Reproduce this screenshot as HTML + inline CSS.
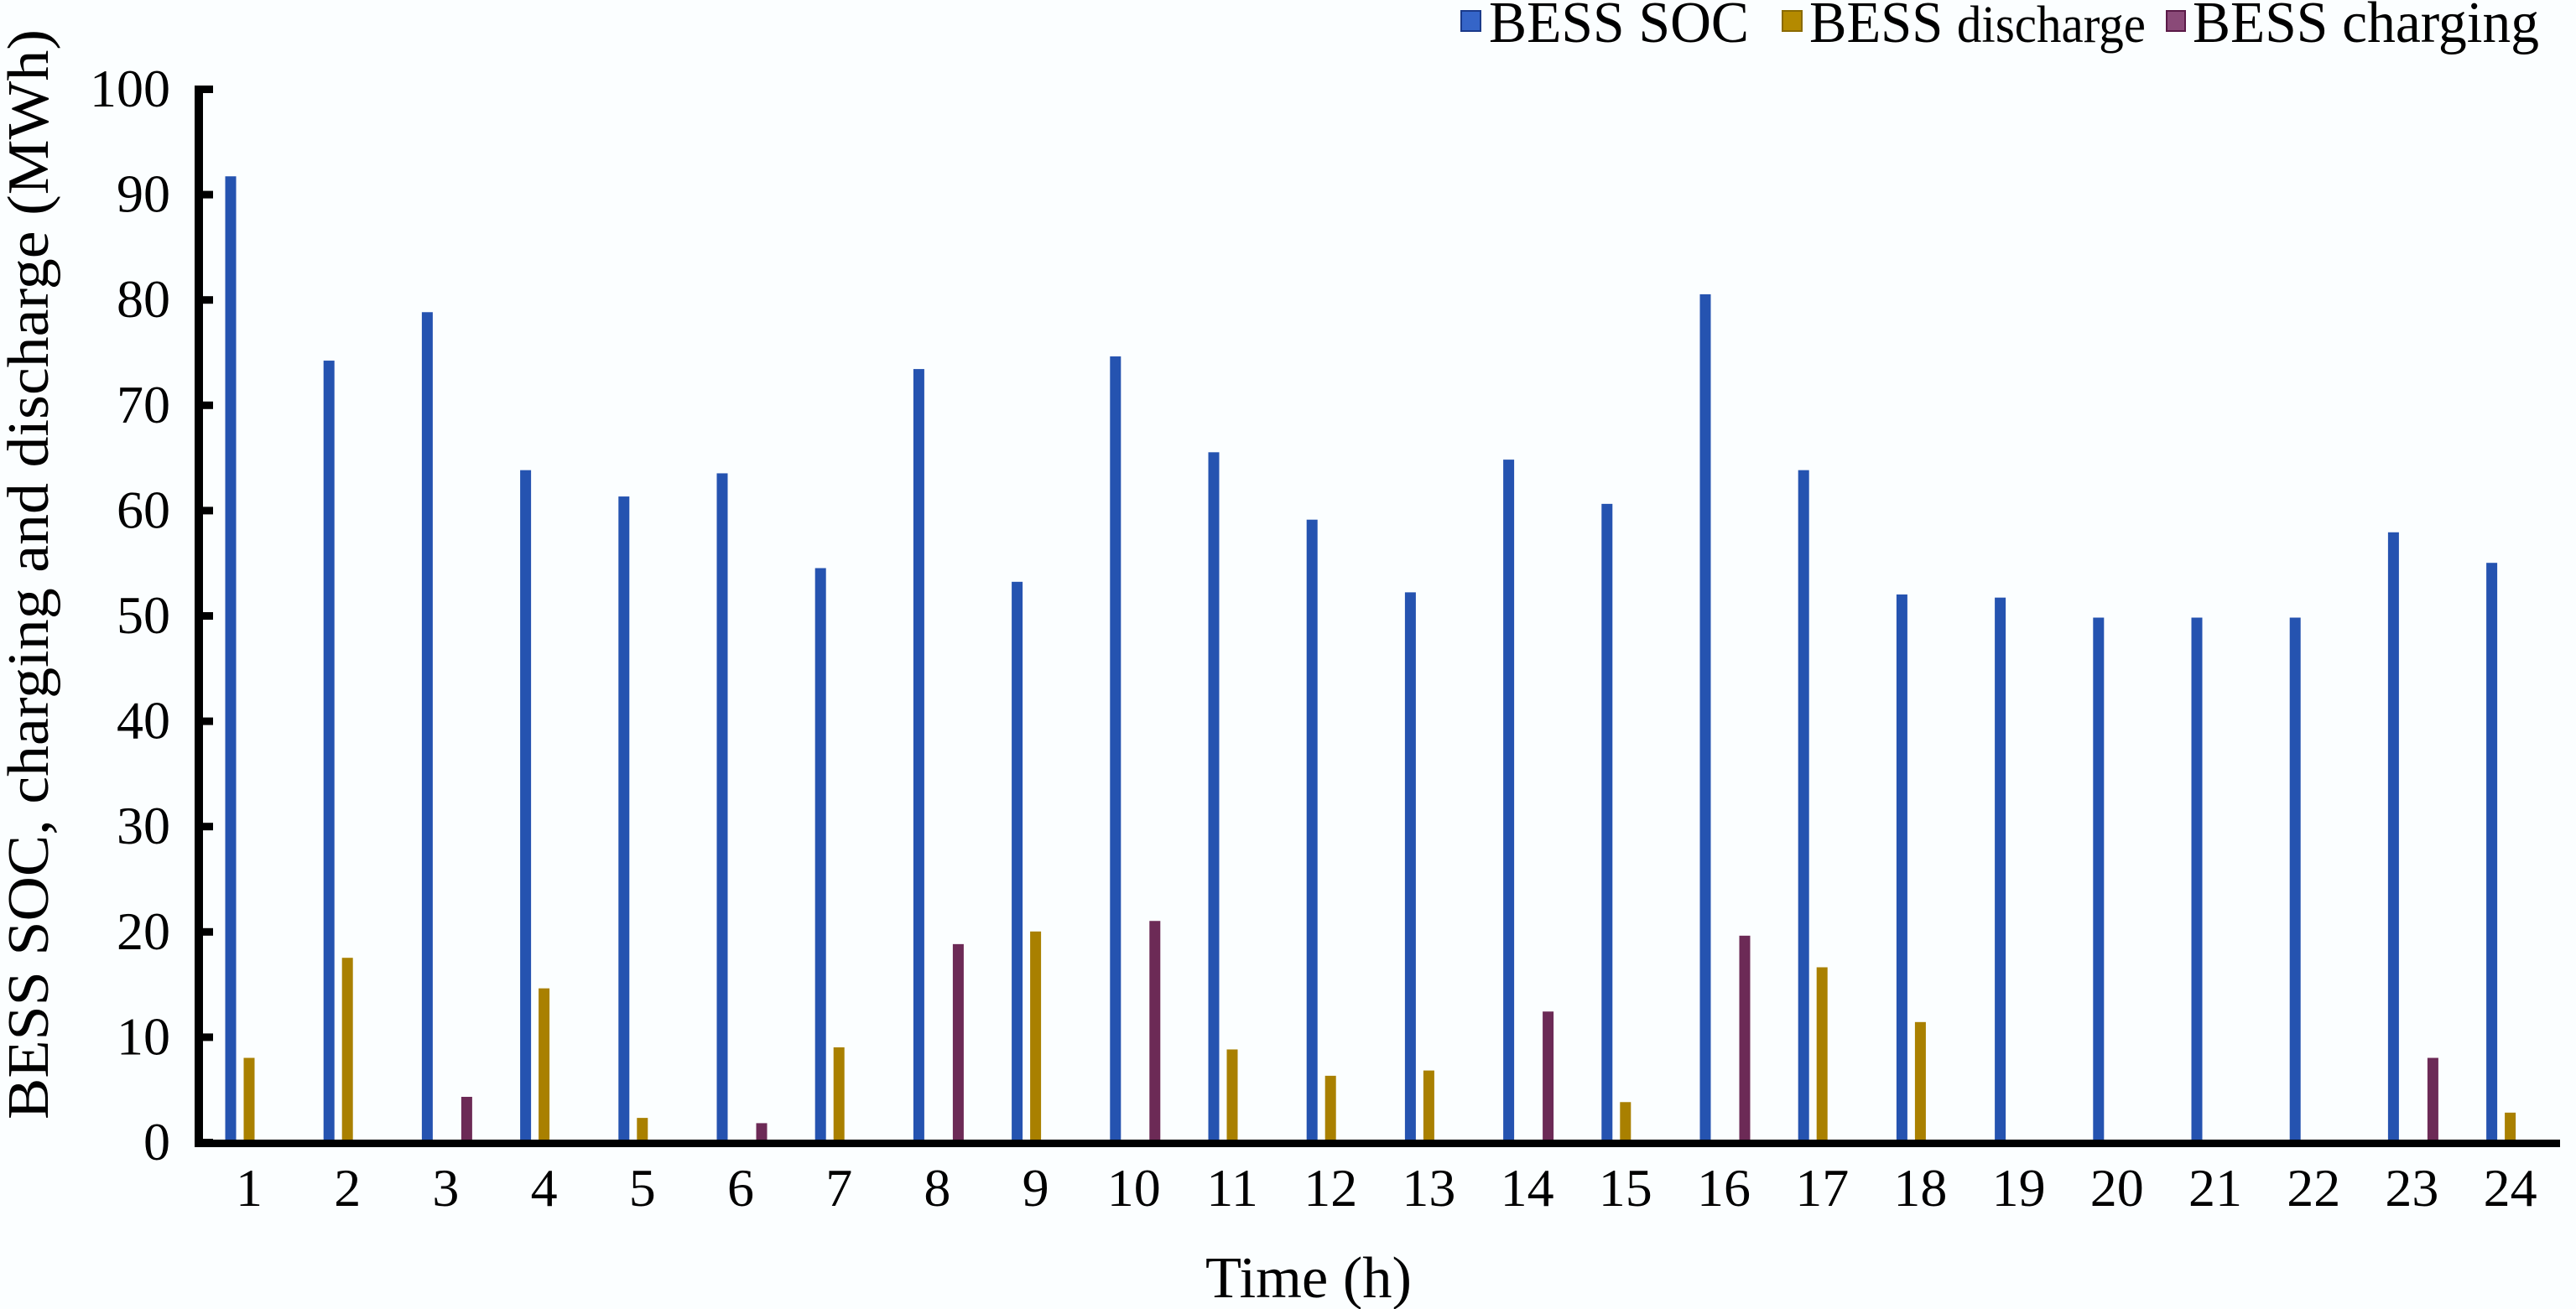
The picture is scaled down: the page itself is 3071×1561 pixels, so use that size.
<!DOCTYPE html>
<html><head><meta charset="utf-8">
<style>
html,body{margin:0;padding:0;background:#fbfeff;}
svg{display:block;}
text{font-family:"Liberation Serif","Times New Roman",serif;fill:#000;}
</style></head>
<body>
<svg id="chart" width="3071" height="1561" viewBox="0 0 3071 1561" xmlns="http://www.w3.org/2000/svg">
<rect width="3071" height="1561" fill="#fbfeff"/>
<g id="bars"></g>
<g id="axes"></g>
<g>
  <rect x="1742" y="13" width="23" height="24" fill="#3565c8" stroke="#1a3a8a" stroke-width="2"/>
  <text x="1775" y="50" font-size="70" textLength="310" lengthAdjust="spacingAndGlyphs">BESS SOC</text>
  <rect x="2125" y="13" width="23" height="24" fill="#b48a00" stroke="#8a6a00" stroke-width="2"/>
  <text x="2157" y="50" font-size="70" textLength="401" lengthAdjust="spacingAndGlyphs">BESS <tspan font-size="62">discharge</tspan></text>
  <rect x="2583" y="13" width="22" height="24" fill="#8a4a78" stroke="#5a1a48" stroke-width="2"/>
  <text x="2614" y="50" font-size="70" textLength="413" lengthAdjust="spacingAndGlyphs">BESS charging</text>
</g>
<text x="1560" y="1547" font-size="70" text-anchor="middle" textLength="246" lengthAdjust="spacingAndGlyphs">Time  (h)</text>
<text transform="translate(57,685) rotate(-90)" font-size="70" text-anchor="middle" textLength="1300" lengthAdjust="spacingAndGlyphs">BESS SOC, charging and discharge (MWh)</text>
</svg>
<script>
const hours = ["1","2","3","4","5","6","7","8","9","10","11","12","13","14","15","16","17","18","19","20","21","22","23","24"];
const socVals = [91.7,74.2,78.8,63.8,61.3,63.5,54.5,73.4,53.2,74.6,65.5,59.1,52.2,64.8,60.6,80.5,63.8,52.0,51.7,49.8,49.8,49.8,57.9,55.0];
const disVals = [8.0,17.5,0,14.6,2.3,0,9.0,0,20.0,0,8.8,6.3,6.8,0,3.8,0,16.6,11.4,0,0,0,0,0,2.8];
const chgVals = [0,0,4.3,0,0,1.8,0,18.8,0,21.0,0,0,0,12.4,0,19.6,0,0,0,0,0,0,8.0,0];
const yTicks = [0,10,20,30,40,50,60,70,80,90,100];

const NS = "http://www.w3.org/2000/svg";
const Y0 = 1362, YTOP = 106, X1 = 297, DX = 117.2, BW = 13;
function yScale(v){ return Y0 - (v/100)*(Y0-YTOP); }
function xScale(i){ return X1 + i*DX; }

const bars = document.getElementById('bars');
const axes = document.getElementById('axes');
function mk(tag, attrs, parent){
  const e = document.createElementNS(NS, tag);
  for (const k in attrs) e.setAttribute(k, attrs[k]);
  parent.appendChild(e);
  return e;
}
const series = [
  {vals: socVals, off: -22, fill: "#2553b0", name: "bar-soc"},
  {vals: disVals, off: 0, fill: "#a98000", name: "bar-discharge"},
  {vals: chgVals, off: 25, fill: "#6c2a56", name: "bar-charging"}
];
series.forEach(s => {
  s.vals.forEach((v, i) => {
    if (v <= 0) return;
    const r = mk('rect', {x: xScale(i) + s.off - BW/2, y: yScale(v), width: BW, height: Y0 - yScale(v), fill: s.fill}, bars);
    
    
  });
});
// axes
const ya = mk('rect', {x: 232, y: 102, width: 10, height: 1266, fill: "#000"}, axes);


const xa = mk('rect', {x: 232, y: 1359, width: 2820, height: 9, fill: "#000"}, axes);


yTicks.forEach(t => {
  const tk = mk('rect', {x: 237, y: yScale(t) - 4, width: 17, height: 9, fill: "#000"}, axes);
  
  
  const lb = mk('text', {x: 203, y: yScale(t) + 21, 'font-size': 64, 'text-anchor': 'end'}, axes);
  lb.textContent = String(t);
  
  
});
hours.forEach((h, i) => {
  const lb = mk('text', {x: xScale(i), y: 1438, 'font-size': 64, 'text-anchor': 'middle'}, axes);
  lb.textContent = h;
  
  
});
</script>
</body></html>
